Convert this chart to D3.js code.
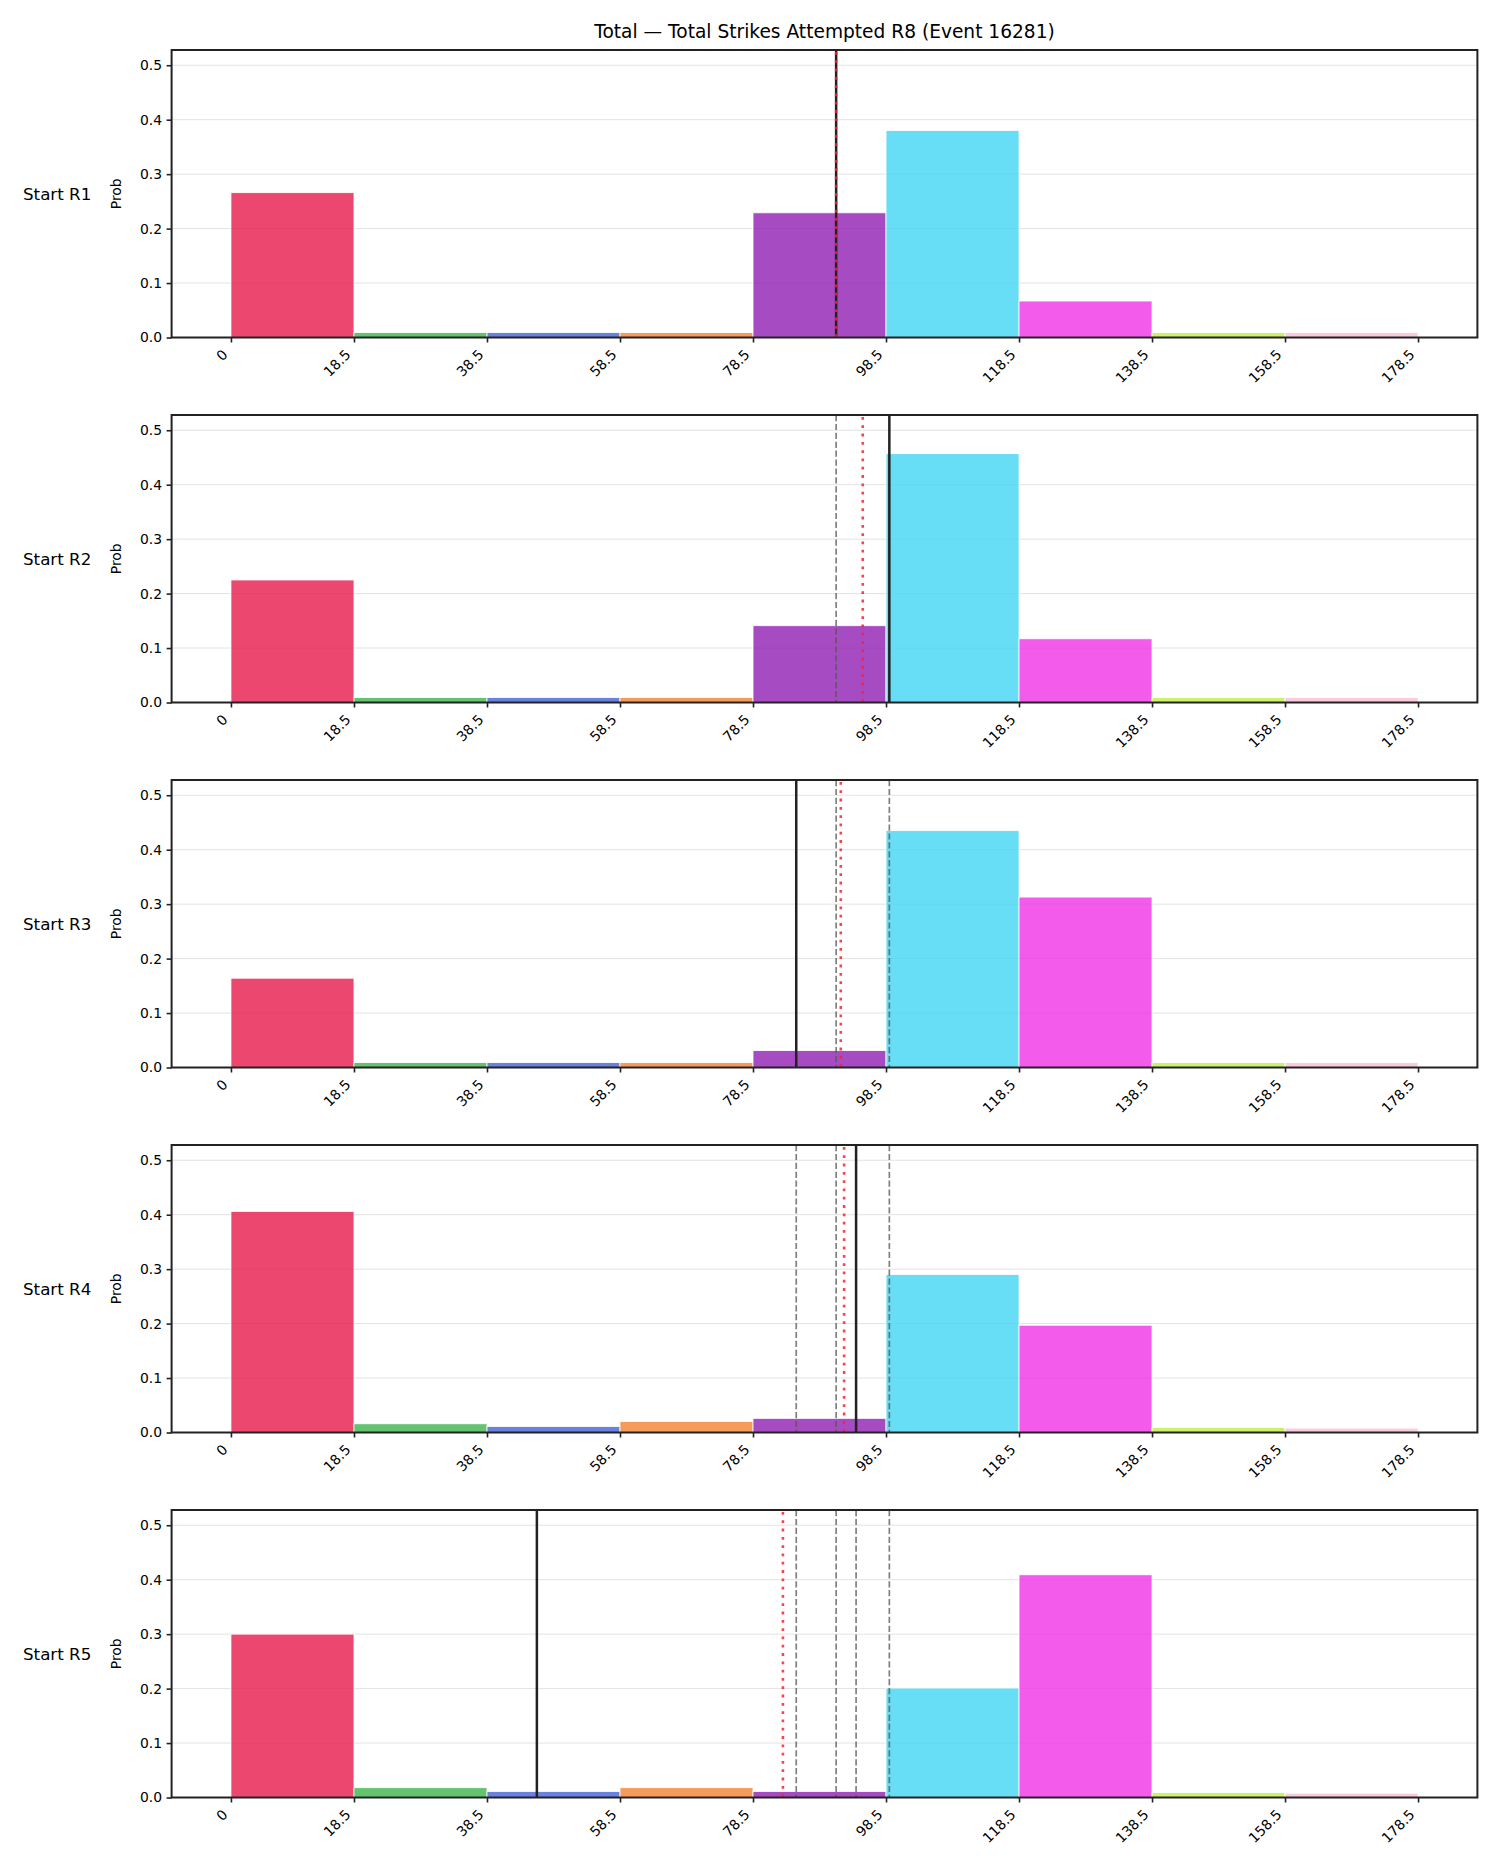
<!DOCTYPE html>
<html>
<head>
<meta charset="utf-8">
<script src="https://cdn.jsdelivr.net/npm/d3@7"></script>
<style>
  html, body { margin: 0; padding: 0; background: #fff; }
  svg { display: block; font-family: "DejaVu Sans", sans-serif; }
</style>
</head>
<body>
<svg id="chart" width="1500" height="1875"></svg>
<script>
// ---------- data ----------
const titleText = "Total \u2014 Total Strikes Attempted R8 (Event 16281)";
const binEdges = [0, 18.5, 38.5, 58.5, 78.5, 98.5, 118.5, 138.5, 158.5, 178.5];
const xTickValues = [0, 18.5, 38.5, 58.5, 78.5, 98.5, 118.5, 138.5, 158.5, 178.5];
const xTickLabels = ["0", "18.5", "38.5", "58.5", "78.5", "98.5", "118.5", "138.5", "158.5", "178.5"];
const yTickValues = [0.0, 0.1, 0.2, 0.3, 0.4, 0.5];
const binColors = ["#e6194B", "#3cb44b", "#4363d8", "#f58231", "#911eb4", "#42d4f4", "#f032e6", "#bfef45", "#fabed4"];
const rowLabels = ["Start R1", "Start R2", "Start R3", "Start R4", "Start R5"];
const probR1 = [0.266, 0.009, 0.009, 0.009, 0.229, 0.380, 0.067, 0.009, 0.009];
const probR2 = [0.225, 0.009, 0.009, 0.009, 0.141, 0.457, 0.117, 0.009, 0.009];
const probR3 = [0.164, 0.009, 0.009, 0.009, 0.031, 0.435, 0.313, 0.009, 0.009];
const probR4 = [0.406, 0.016, 0.011, 0.020, 0.026, 0.290, 0.197, 0.009, 0.008];
const probR5 = [0.300, 0.018, 0.011, 0.018, 0.011, 0.201, 0.409, 0.009, 0.008];
const probs = [probR1, probR2, probR3, probR4, probR5];
const roundLines = [91, 99, 85, 94, 46];          // solid black line for each start round
const meanLines = [91.0, 95.0, 91.7, 92.2, 83.0]; // red dotted line
const yMax = 0.528;
const xDomain = [-8.925, 187.425];

// ---------- layout ----------
const svg = d3.select("#chart");
const axLeft = 171.6, axRight = 1477.4;
const panelTops = [50, 415, 780, 1145, 1510];
const panelH = 287.5;
const fontTick = 13.9;

svg.append("text")
  .attr("x", (axLeft + axRight) / 2)
  .attr("y", 38)
  .attr("text-anchor", "middle")
  .attr("font-size", 18.6)
  .attr("fill", "#000")
  .text(titleText);

const x = d3.scaleLinear().domain(xDomain).range([axLeft, axRight]);

probs.forEach((vals, i) => {
  const top = panelTops[i];
  const bottom = top + panelH;
  const y = d3.scaleLinear().domain([0, yMax]).range([bottom, top]);
  const g = svg.append("g");

  // gridlines
  g.selectAll("line.grid").data(yTickValues).enter().append("line")
    .attr("x1", axLeft).attr("x2", axRight)
    .attr("y1", d => y(d)).attr("y2", d => y(d))
    .attr("stroke", "#e3e3e3").attr("stroke-width", 1);

  // bars
  const bins = vals.map((v, k) => ({ x0: binEdges[k], x1: binEdges[k + 1], v, c: binColors[k] }));
  g.selectAll("rect.bar").data(bins).enter().append("rect")
    .attr("x", d => x(d.x0))
    .attr("width", d => x(d.x1) - x(d.x0))
    .attr("y", d => y(d.v))
    .attr("height", d => y(0) - y(d.v))
    .attr("fill", d => d.c)
    .attr("fill-opacity", 0.8)
    .attr("stroke", "#fff")
    .attr("stroke-width", 0.8);

  // previous round lines (gray dashed)
  g.selectAll("line.prev").data(roundLines.slice(0, i)).enter().append("line")
    .attr("x1", d => x(d)).attr("x2", d => x(d))
    .attr("y1", top).attr("y2", bottom)
    .attr("stroke", "#555").attr("stroke-opacity", 0.75)
    .attr("stroke-width", 1.7)
    .attr("stroke-dasharray", "6.2,2.7");

  // current round line (solid black)
  g.append("line")
    .attr("x1", x(roundLines[i])).attr("x2", x(roundLines[i]))
    .attr("y1", top).attr("y2", bottom)
    .attr("stroke", "#222").attr("stroke-width", 2.5);

  // mean line (red dotted)
  g.append("line")
    .attr("x1", x(meanLines[i])).attr("x2", x(meanLines[i]))
    .attr("y1", top + 2).attr("y2", bottom)
    .attr("stroke", "#ff1f2f").attr("stroke-opacity", 0.85)
    .attr("stroke-width", 2.6)
    .attr("stroke-dasharray", "2.8,5.5");

  // frame
  g.append("rect")
    .attr("x", axLeft).attr("y", top)
    .attr("width", axRight - axLeft).attr("height", panelH)
    .attr("fill", "none").attr("stroke", "#222").attr("stroke-width", 2);

  // y axis
  const yAxis = d3.axisLeft(y).tickValues(yTickValues).tickFormat(d3.format(".1f"))
    .tickSize(5).tickSizeOuter(0).tickPadding(4.5);
  const ya = g.append("g").attr("transform", `translate(${axLeft},0)`).call(yAxis);
  ya.select(".domain").remove();
  ya.selectAll(".tick line").attr("stroke", "#222").attr("stroke-width", 1.6);
  ya.selectAll(".tick text").attr("font-size", fontTick).attr("fill", "#000")
    .attr("font-family", "DejaVu Sans");

  // x axis (ticks + rotated labels)
  const xAxis = d3.axisBottom(x).tickValues(xTickValues)
    .tickFormat((d, k) => xTickLabels[k]).tickSize(5).tickSizeOuter(0);
  const xa = g.append("g").attr("transform", `translate(0,${bottom})`).call(xAxis);
  xa.select(".domain").remove();
  xa.selectAll(".tick line").attr("stroke", "#222").attr("stroke-width", 1.6);
  xa.selectAll(".tick text")
    .attr("font-size", fontTick).attr("fill", "#000").attr("font-family", "DejaVu Sans")
    .attr("text-anchor", "end")
    .attr("dy", null)
    .attr("y", 0)
    .attr("transform", "translate(-3,18) rotate(-45)");

  // y label "Prob"
  g.append("text")
    .attr("transform", `translate(121,${(top + bottom) / 2}) rotate(-90)`)
    .attr("text-anchor", "middle")
    .attr("font-size", fontTick)
    .attr("fill", "#000")
    .text("Prob");

  // row label
  g.append("text")
    .attr("x", 23)
    .attr("y", (top + bottom) / 2 + 6)
    .attr("font-size", 16.7)
    .attr("fill", "#000")
    .text(rowLabels[i]);
});
</script>
</body>
</html>
